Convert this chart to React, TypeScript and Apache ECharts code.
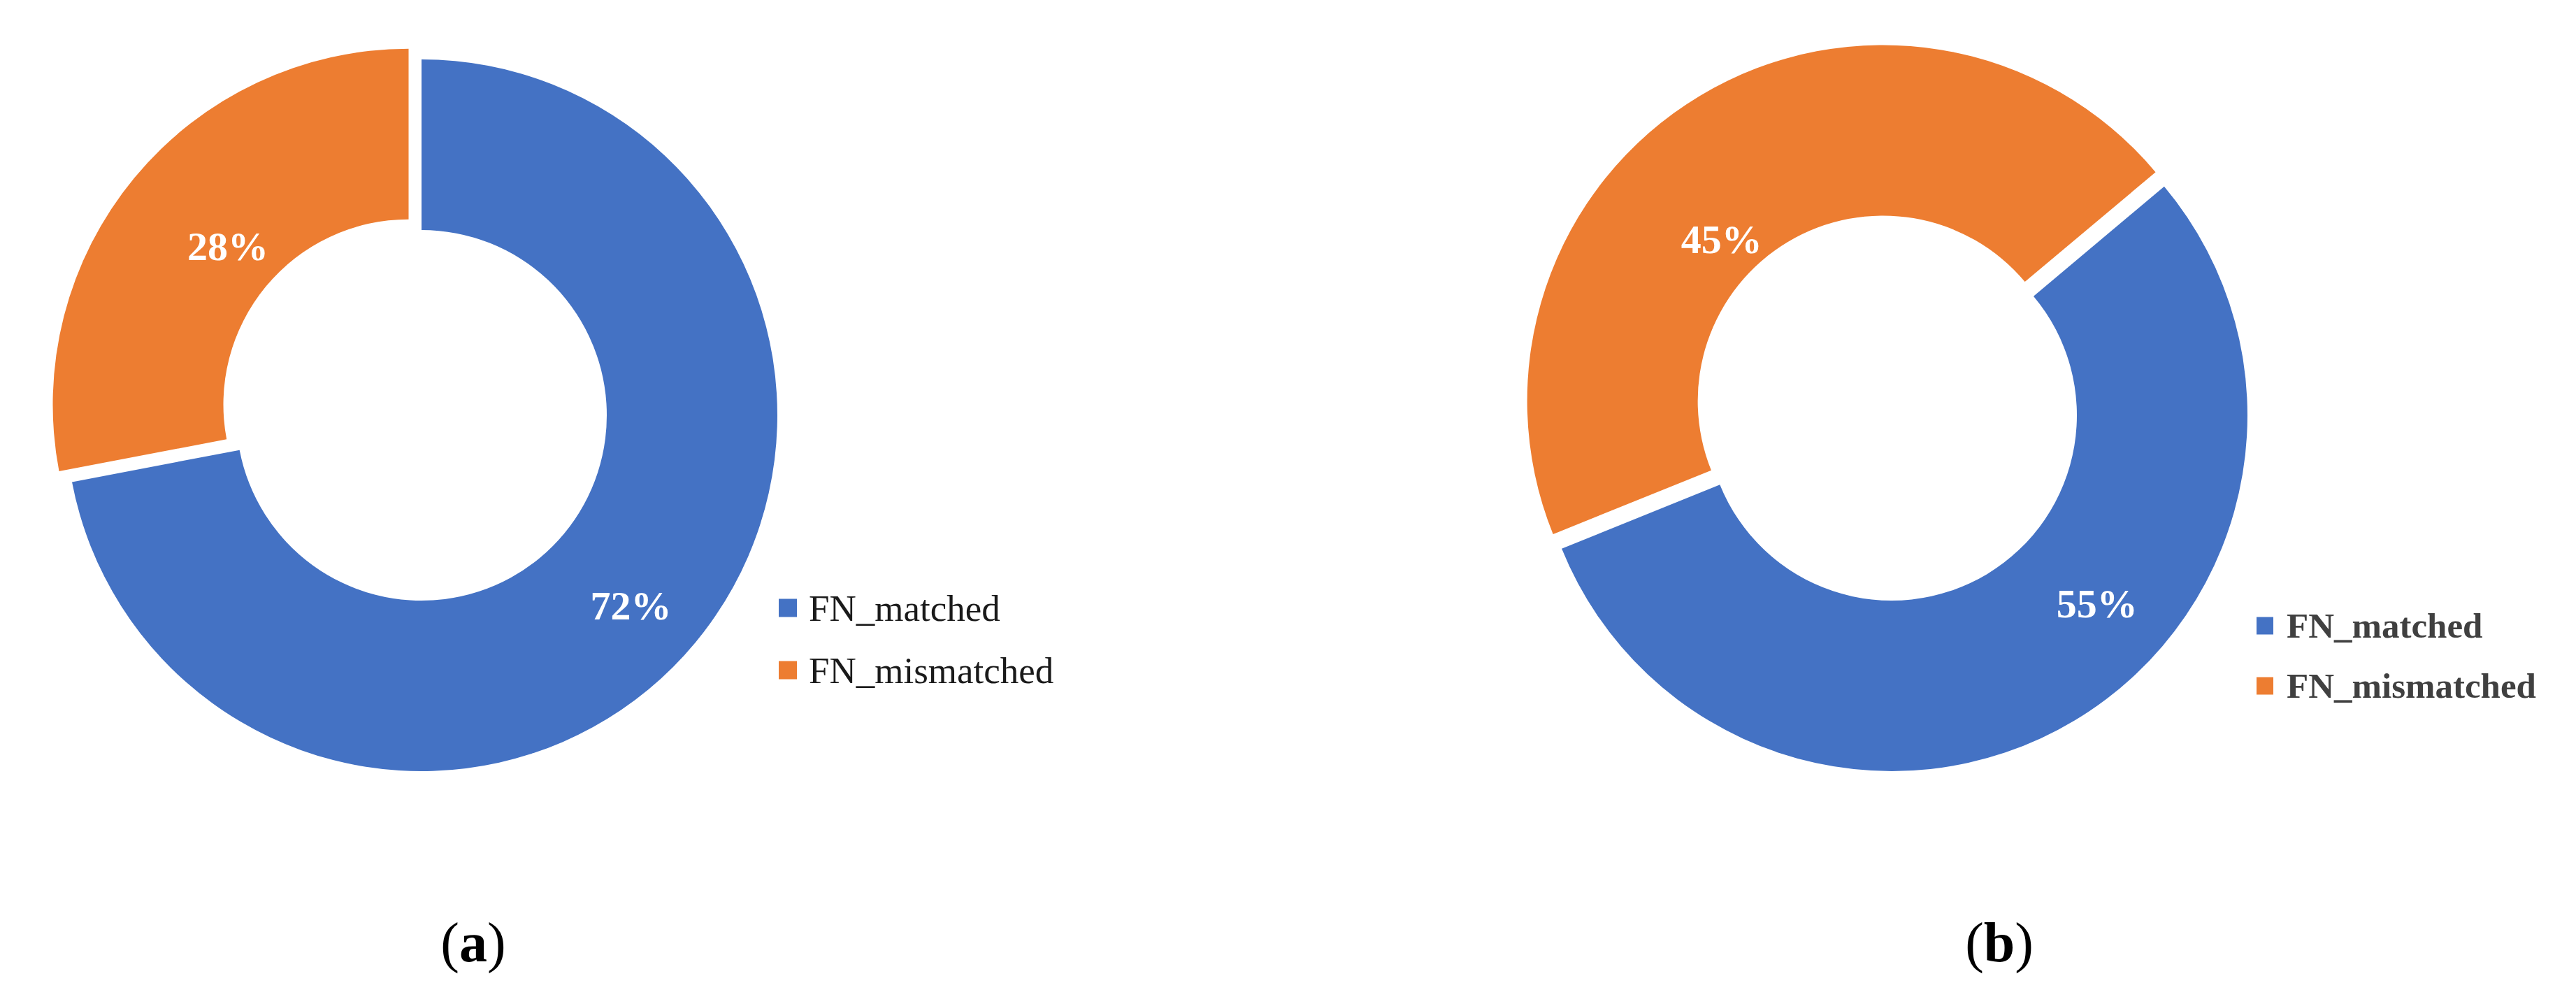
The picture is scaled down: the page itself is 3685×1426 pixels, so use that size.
import React, { useEffect, useRef } from "react";
import * as echarts from "echarts";

const categories = ["FN_matched", "FN_mismatched"];
const valuesA = [72, 28];
const valuesB = [55, 45];
const captionLetters = ["a", "b"];
const sliceColors = ["#4472C4", "#ED7D31"];

export default function App() {
  const ref = useRef<HTMLDivElement>(null);

  useEffect(() => {
    document.body.style.margin = "0";
    const chart = echarts.init(ref.current as HTMLDivElement, null, { renderer: "svg" });

    const labelShift: number[][][] = [
      [
        [-1, 24],
        [42, 22],
      ],
      [
        [93, -65],
        [-30, 103],
      ],
    ];

    const mkData = (vals: number[]) =>
      vals.map((v, i) => ({
        name: categories[i],
        value: v,
        selected: i === 1,
        itemStyle: { color: sliceColors[i] },
      }));

    const label = {
      show: true,
      position: "inside",
      formatter: (p: any) => `${p.value}%`,
      color: "#ffffff",
      fontFamily: "Liberation Serif",
      fontWeight: "bold",
      fontSize: 58,
      lineHeight: 58,
    };

    const mkSeries = (idx: number, vals: number[], center: number[], startAngle: number) => ({
      type: "pie",
      radius: [265, 509],
      center,
      startAngle,
      clockwise: true,
      selectedMode: "multiple",
      selectedOffset: 24,
      avoidLabelOverlap: false,
      label,
      labelLine: { show: false },
      emphasis: { disabled: true },
      select: { itemStyle: {} },
      labelLayout: (p: any) => ({
        dx: labelShift[idx][p.dataIndex][0],
        dy: labelShift[idx][p.dataIndex][1],
      }),
      data: mkData(vals),
    });

    const option: any = {
      animation: false,
      backgroundColor: "#ffffff",
      legend: [
        {
          left: 1109,
          top: 838,
          orient: "vertical",
          icon: "rect",
          itemWidth: 26,
          itemHeight: 26,
          itemGap: 36,
          selectedMode: false,
          data: categories,
          textStyle: {
            fontFamily: "Liberation Serif",
            fontSize: 53,
            lineHeight: 52,
            color: "#1a1a1a",
            padding: [0, 0, 0, 12],
          },
        },
        {
          left: 3223,
          top: 864,
          orient: "vertical",
          icon: "rect",
          itemWidth: 24,
          itemHeight: 25,
          itemGap: 34,
          selectedMode: false,
          data: categories,
          textStyle: {
            fontFamily: "Liberation Serif",
            fontSize: 51,
            fontWeight: "bold",
            lineHeight: 52,
            color: "#404040",
            padding: [0, 0, 0, 14],
          },
        },
      ],
      series: [
        mkSeries(0, valuesA, [603, 594], 90),
        mkSeries(1, valuesB, [2706, 594], 40),
      ],
      graphic: captionLetters.map((c, i) => ({
        type: "text",
        x: i === 0 ? 677 : 2860,
        y: 1348,
        style: {
          text: `{n|(}{b|${c}}{n|)}`,
          align: "center",
          verticalAlign: "middle",
          rich: {
            n: { fontFamily: "Liberation Serif", fontSize: 80, fill: "#000", color: "#000" },
            b: { fontFamily: "Liberation Serif", fontSize: 80, fontWeight: "bold", fill: "#000", color: "#000" },
          },
        },
      })),
    };

    chart.setOption(option);
    return () => chart.dispose();
  }, []);

  return <div ref={ref} style={{ width: 3685, height: 1426 }} />;
}
